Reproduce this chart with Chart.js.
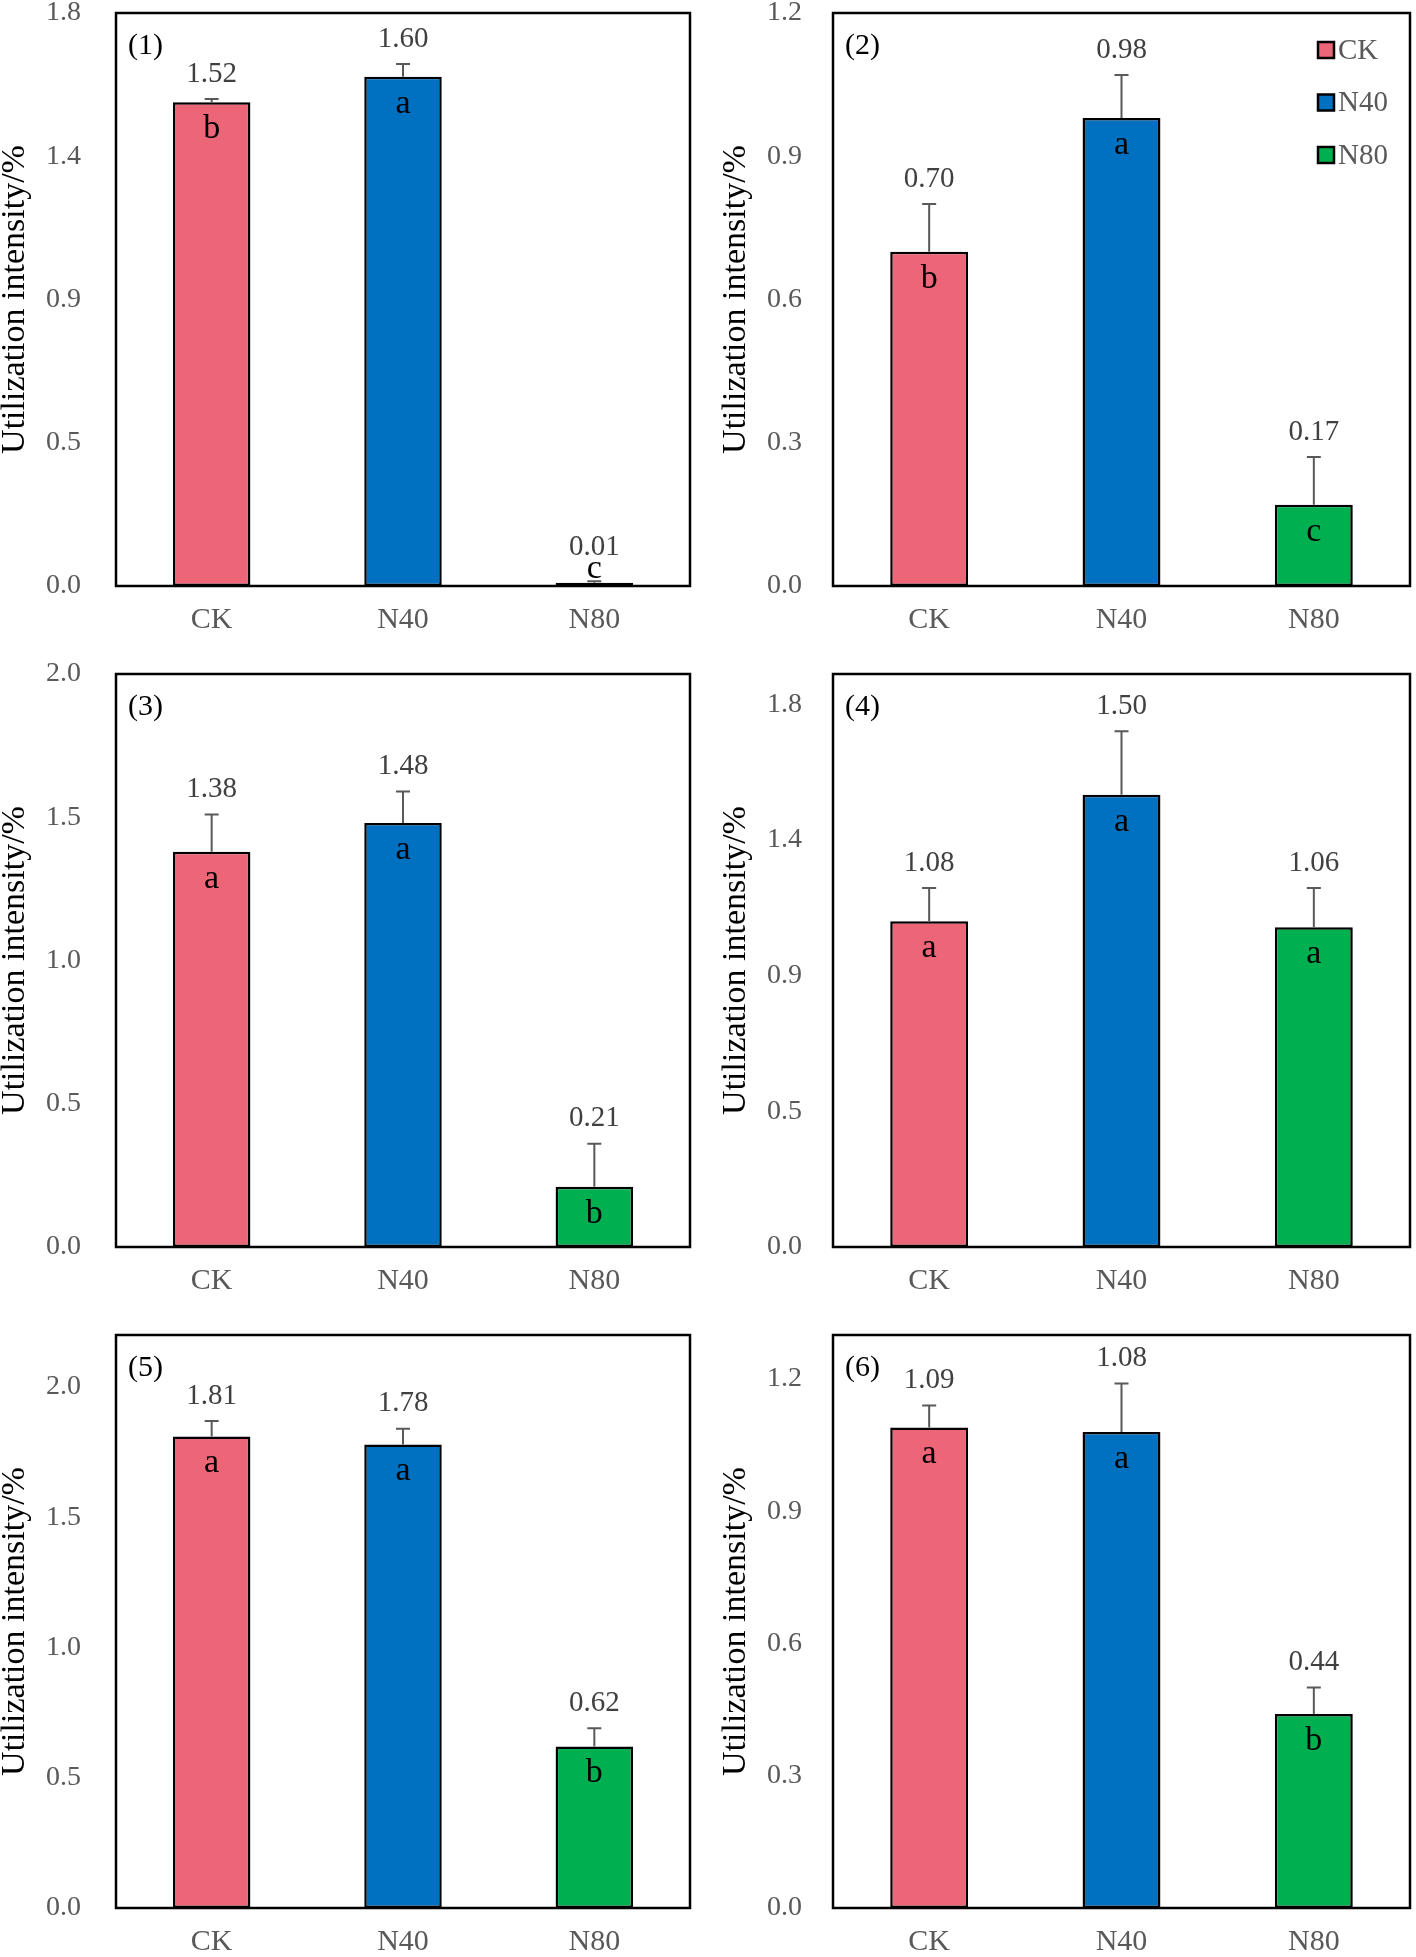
<!DOCTYPE html>
<html>
<head>
<meta charset="utf-8">
<script src="https://cdn.jsdelivr.net/npm/chart.js@4.4.1/dist/chart.umd.min.js"></script>
<style>
  html, body { margin: 0; padding: 0; background: #fff; overflow: hidden; }
  #wrap { position: relative; width: 1416px; height: 1957px; }
  canvas { position: absolute; }
</style>
</head>
<body>
<div id="wrap">
  <canvas id="c0" width="708" height="660" style="left:0;top:0"></canvas>
  <canvas id="c1" width="708" height="660" style="left:708px;top:0"></canvas>
  <canvas id="c2" width="708" height="660" style="left:0;top:661px"></canvas>
  <canvas id="c3" width="708" height="660" style="left:708px;top:661px"></canvas>
  <canvas id="c4" width="708" height="660" style="left:0;top:1322px"></canvas>
  <canvas id="c5" width="708" height="660" style="left:708px;top:1322px"></canvas>
</div>
<script>
// categories and colours
const categories = ['CK', 'N40', 'N80'];
const barColors = ['#EC6678', '#0070C0', '#00B050'];
const panelNames = ['(1)', '(2)', '(3)', '(4)', '(5)', '(6)'];

// means, error bars (+SE) and significance letters per panel
const means1 = [1.52, 1.60, 0.01];
const errors1 = [0.01, 0.04, 0.005];
const letters1 = ['b', 'a', 'c'];

const means2 = [0.70, 0.98, 0.17];
const errors2 = [0.10, 0.09, 0.10];
const letters2 = ['b', 'a', 'c'];

const means3 = [1.38, 1.48, 0.21];
const errors3 = [0.13, 0.11, 0.15];
const letters3 = ['a', 'a', 'b'];

const means4 = [1.08, 1.50, 1.06];
const errors4 = [0.11, 0.21, 0.13];
const letters4 = ['a', 'a', 'a'];

const means5 = [1.81, 1.78, 0.62];
const errors5 = [0.06, 0.06, 0.07];
const letters5 = ['a', 'a', 'b'];

const means6 = [1.09, 1.08, 0.44];
const errors6 = [0.05, 0.11, 0.06];
const letters6 = ['a', 'a', 'b'];

// y axes
const yMax = [1.8, 1.2, 2.0, 1.9, 2.2, 1.3];
const yTicks1 = [0, 0.45, 0.9, 1.35, 1.8];
const yTickLabels1 = ['0.0', '0.5', '0.9', '1.4', '1.8'];
const yTicks2 = [0, 0.3, 0.6, 0.9, 1.2];
const yTickLabels2 = ['0.0', '0.3', '0.6', '0.9', '1.2'];
const yTicks3 = [0, 0.5, 1.0, 1.5, 2.0];
const yTickLabels3 = ['0.0', '0.5', '1.0', '1.5', '2.0'];

const yTitle = 'Utilization intensity/%';

const allMeans = [means1, means2, means3, means4, means5, means6];
const allErrors = [errors1, errors2, errors3, errors4, errors5, errors6];
const allLetters = [letters1, letters2, letters3, letters4, letters5, letters6];
const allTicks = [yTicks1, yTicks2, yTicks3, yTicks1, yTicks3, yTicks2];
const allTickLabels = [yTickLabels1, yTickLabels2, yTickLabels3, yTickLabels1, yTickLabels3, yTickLabels2];

const FONT = '"Liberation Serif", "Times New Roman", serif';

// error bars, value labels, letters, frame, panel tag, legend
const panelDecor = {
  id: 'panelDecor',
  afterDatasetsDraw(chart, args, opts) {
    const ctx = chart.ctx;
    const area = chart.chartArea;
    const yScale = chart.scales.y;
    const meta = chart.getDatasetMeta(0);
    const base = yScale.getPixelForValue(0);
    ctx.save();
    meta.data.forEach((bar, k) => {
      const m = opts.means[k];
      const top = yScale.getPixelForValue(m);
      const errTop = yScale.getPixelForValue(m + opts.errors[k]);
      // error bar (upper only)
      ctx.strokeStyle = '#595959';
      ctx.lineWidth = 2;
      ctx.beginPath();
      ctx.moveTo(bar.x, top);
      ctx.lineTo(bar.x, errTop);
      ctx.moveTo(bar.x - 7, errTop);
      ctx.lineTo(bar.x + 7, errTop);
      ctx.stroke();
      // letter inside bar top
      const letterY = Math.min(top + 27, base - 17);
      ctx.fillStyle = '#000';
      ctx.font = '34px ' + FONT;
      ctx.textAlign = 'center';
      ctx.textBaseline = 'middle';
      ctx.fillText(opts.letters[k], bar.x, letterY);
      // value label
      const valY = Math.min(errTop - 25, letterY - 22);
      ctx.fillStyle = '#404040';
      ctx.font = '29px ' + FONT;
      ctx.fillText(m.toFixed(2), bar.x, valY);
    });
    // frame
    ctx.strokeStyle = '#000';
    ctx.lineWidth = 2.5;
    ctx.strokeRect(area.left, area.top, area.right - area.left, area.bottom - area.top);
    // panel tag
    ctx.fillStyle = '#000';
    ctx.font = '30px ' + FONT;
    ctx.textAlign = 'left';
    ctx.textBaseline = 'middle';
    ctx.fillText(opts.name, area.left + 12, area.top + 33);
    // legend
    if (opts.legend) {
      const lx = area.right - 92;
      categories.forEach((c, k) => {
        const ly = area.top + 37 + k * 52.5;
        ctx.fillStyle = barColors[k];
        ctx.fillRect(lx, ly - 8, 16, 16);
        ctx.strokeStyle = '#000';
        ctx.lineWidth = 2.5;
        ctx.strokeRect(lx, ly - 8, 16, 16);
        ctx.fillStyle = '#595959';
        ctx.font = '29px ' + FONT;
        ctx.textAlign = 'left';
        ctx.fillText(c, lx + 20, ly + 1);
      });
    }
    ctx.restore();
  }
};

function makeChart(i) {
  const col = i % 2;
  const ticks = allTicks[i];
  const tickLabels = allTickLabels[i];
  new Chart(document.getElementById('c' + i), {
    type: 'bar',
    data: {
      labels: categories,
      datasets: [{
        data: allMeans[i],
        backgroundColor: barColors,
        borderColor: '#000',
        borderWidth: 2.5,
        borderSkipped: false,
        categoryPercentage: 1,
        barPercentage: 0.405
      }]
    },
    options: {
      responsive: false,
      animation: false,
      layout: { padding: { top: 13, right: col ? 6 : 18, left: 0, bottom: 0 } },
      plugins: {
        legend: { display: false },
        tooltip: { enabled: false },
        panelDecor: {
          means: allMeans[i],
          errors: allErrors[i],
          letters: allLetters[i],
          name: panelNames[i],
          legend: i === 1
        }
      },
      scales: {
        x: {
          grid: { display: false, drawTicks: false },
          border: { display: false },
          ticks: { color: '#595959', font: { family: FONT, size: 30, lineHeight: 1 }, padding: 19 },
          afterFit: s => { s.height = 74; s.paddingLeft = 0; s.paddingRight = 0; }
        },
        y: {
          min: 0,
          max: yMax[i],
          grid: { display: false, drawTicks: false },
          border: { display: false },
          afterBuildTicks: s => { s.ticks = ticks.map(v => ({ value: v })); },
          ticks: {
            color: '#595959',
            font: { family: FONT, size: 28, lineHeight: 1 },
            padding: col ? 31 : 35,
            callback: (v, idx) => tickLabels[idx]
          },
          title: {
            display: true,
            text: yTitle,
            color: '#000',
            font: { family: FONT, size: 34, lineHeight: 1 },
            padding: { top: col ? 11 : -2, bottom: 0 }
          },
          afterFit: s => { s.width = col ? 125 : 116; s.paddingTop = 0; s.paddingBottom = 0; }
        }
      }
    },
    plugins: [panelDecor]
  });
}

for (let i = 0; i < 6; i++) makeChart(i);
</script>
</body>
</html>
